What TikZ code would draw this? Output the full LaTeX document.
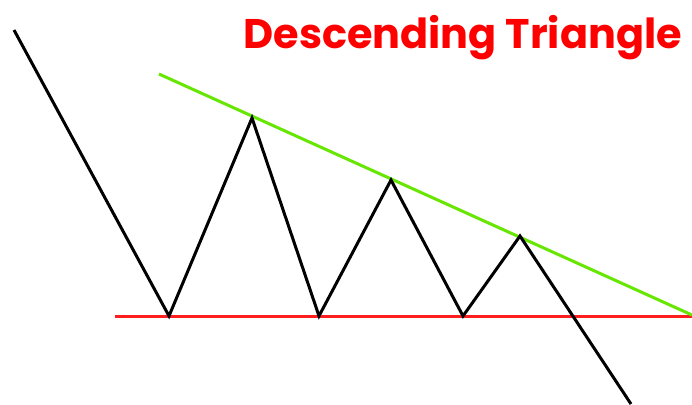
\documentclass[tikz,border=0pt]{standalone}
\usepackage{fontspec}
\newfontfamily\titlefont{Poppins}
\definecolor{trendgreen}{RGB}{102,230,0}
\definecolor{supportred}{RGB}{255,30,30}
\definecolor{titlered}{RGB}{255,0,0}
\usepackage{tikz}
\usetikzlibrary{positioning}

\begin{document}
\begin{tikzpicture}[
    x=0.5pt, y=-0.5pt,
    price/.style={draw=black, line width=1.5pt, line join=miter},
    resist/.style={draw=trendgreen, line width=1.5pt},
    support/.style={draw=supportred, line width=1.5pt},
    title/.style={font=\titlefont\bfseries\fontsize{20.7}{24}\selectfont,
                  text=titlered, inner sep=0pt}
]
\useasboundingbox (0,0) rectangle (692,404);
% price swings
\coordinate (start) at (14,30);
\coordinate (low1) at (169,316);
\coordinate (high1) at (252,118);
\coordinate (low2) at (319,316);
\coordinate (high2) at (391,180);
\coordinate (low3) at (463,316);
\coordinate (high3) at (520,236);
\coordinate (breakout) at (631,404);
% trend lines
\coordinate (resistA) at (159,74);
\coordinate (resistB) at (692,315);
\coordinate (supportA) at (115,316);
\coordinate (supportB) at (692,316);
\draw[support] (supportA) -- (supportB);
\draw[resist] (resistA) -- (resistB);
\draw[price] (start) -- (low1) -- (high1) -- (low2) -- (high2) -- (low3)
    -- (high3) -- (breakout);
\node[title, anchor=base west] (heading) at (243,48) {Descending Triangle};
\end{tikzpicture}
\end{document}
